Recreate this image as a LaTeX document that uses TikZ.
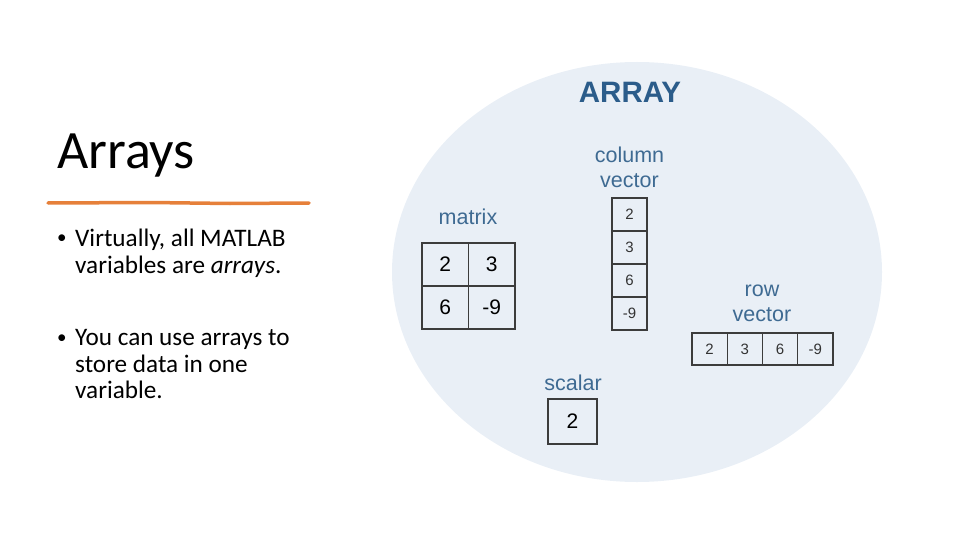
\documentclass[tikz,border=0pt]{standalone}
\usepackage{fontspec}
\setmainfont{Carlito}
\newfontfamily\arialfont{Liberation Sans}
\usepackage{xcolor}
\usetikzlibrary{positioning}

\definecolor{bubble}{RGB}{233,239,246}
\definecolor{headblue}{RGB}{43,92,138}
\definecolor{labelblue}{RGB}{62,106,146}
\definecolor{gridgray}{RGB}{60,60,60}
\definecolor{underline}{RGB}{230,128,58}

\begin{document}
\begin{tikzpicture}[
    x=1pt, y=-1pt,
    label/.style={font=\arialfont\fontsize{21.5}{25.3}\selectfont, text=labelblue, inner sep=0pt, align=center},
    bigcell/.style={rectangle, draw=gridgray, line width=1.3pt, outer sep=0pt, inner sep=0pt, minimum width=46.5pt, minimum height=43pt, font=\arialfont\fontsize{21}{21}\selectfont},
    colcell/.style={rectangle, draw=gridgray, line width=1.2pt, outer sep=0pt, inner sep=0pt, minimum width=35pt, minimum height=33pt, text=black!80, font=\arialfont\fontsize{15}{15}\selectfont},
    rowcell/.style={colcell, minimum width=35.25pt, minimum height=32pt},
    bodytext/.style={font=\fontsize{25.2}{26.8}\selectfont, inner sep=0pt, align=left},
    dot/.style={font=\fontsize{19}{19}\selectfont, inner sep=0pt}
]
\useasboundingbox (0,0) rectangle (960,540);

% left side: title and bullets
\node (title) [anchor=base west, inner sep=0pt, font=\fontsize{54}{54}\selectfont] at (57,168) {Arrays};
\draw [underline, line width=3.5pt, line cap=round] (48,203) -- (150,202.5) -- (230,203.5) -- (309,203);

\node (bul1) [dot, anchor=base west] at (57,243) {•};
\node (txt1) [bodytext, anchor=north west] at (75,229) {Virtually, all MATLAB\\variables are \textit{arrays}.};
\node (bul2) [dot, anchor=base west] at (57,343) {•};
\node (txt2) [bodytext, anchor=north west] at (75,329) {You can use arrays to\\store data in one\\variable.};

% the bubble
\fill [bubble] (637,272) ellipse [x radius=245, y radius=210];
\node (head) [anchor=base, inner sep=0pt, text=headblue, font=\arialfont\bfseries\fontsize{29.5}{30}\selectfont] at (630,102.5) {ARRAY};

% matrix
\node (matlabel) [label, anchor=base] at (468,224) {matrix};
\node (m11) [bigcell] at (445.25,264.5) {2};
\node (m12) [bigcell, right=0pt of m11] {3};
\node (m21) [bigcell, below=0pt of m11] {6};
\node (m22) [bigcell, right=0pt of m21] {-9};

% column vector
\node (collabel) [label, anchor=south] at (629.5,188) {column\\vector};
\node (c1) [colcell] at (629.5,214.5) {2};
\node (c2) [colcell, below=0pt of c1] {3};
\node (c3) [colcell, below=0pt of c2] {6};
\node (c4) [colcell, below=0pt of c3] {-9};

% row vector
\node (rowlabel) [label, anchor=south] at (762,322) {row\\vector};
\node (r1) [rowcell] at (709.6,349) {2};
\node (r2) [rowcell, right=0pt of r1] {3};
\node (r3) [rowcell, right=0pt of r2] {6};
\node (r4) [rowcell, right=0pt of r3] {-9};

% scalar
\node (scallabel) [label, anchor=base] at (573,390) {scalar};
\node (s1) [bigcell, minimum width=49pt, minimum height=45pt] at (572.5,421.5) {2};

\end{tikzpicture}
\end{document}
